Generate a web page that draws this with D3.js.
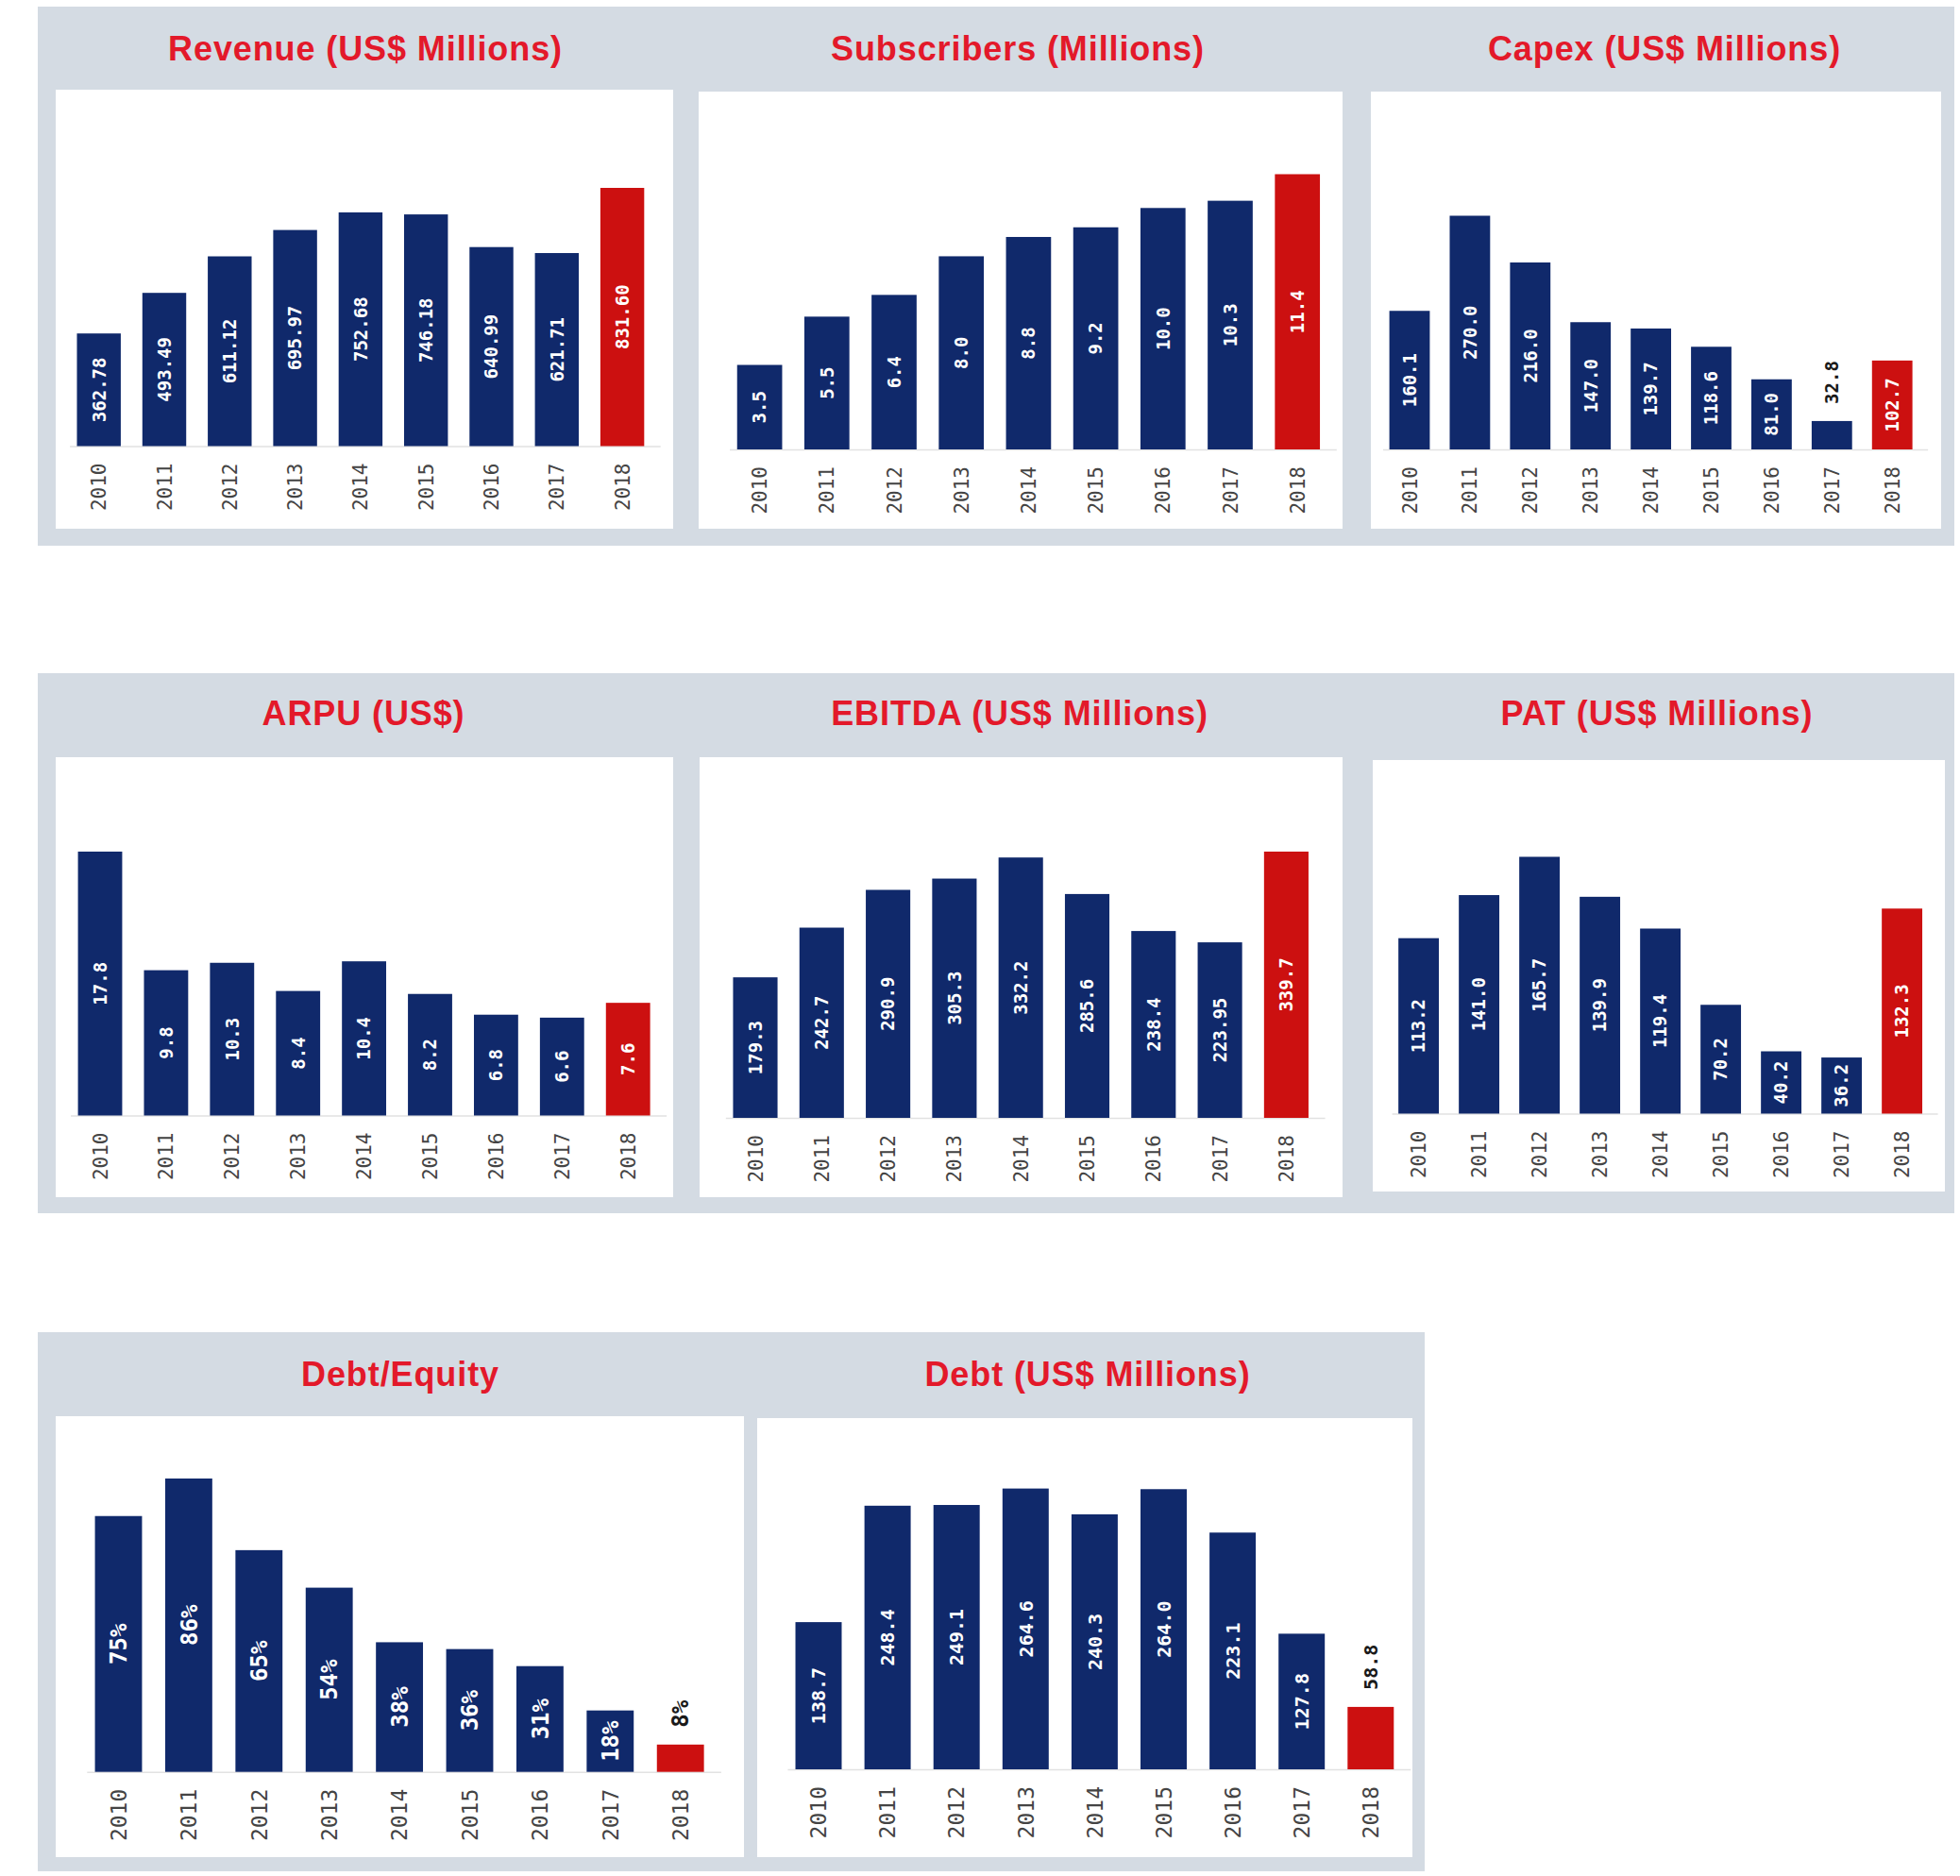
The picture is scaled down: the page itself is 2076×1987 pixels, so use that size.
<!DOCTYPE html>
<html>
<head>
<meta charset="utf-8">
<script src="https://cdn.jsdelivr.net/npm/d3@7"></script>
<style>
  html, body { margin: 0; padding: 0; background: #ffffff; }
  svg { display: block; }
</style>
</head>
<body>
<svg id="chart" width="2076" height="1987"></svg>
<script>
// ---------------- DATA ----------------
const years = ["2010", "2011", "2012", "2013", "2014", "2015", "2016", "2017", "2018"];
const highlightYear = "2018";

const revenue     = [362.78, 493.49, 611.12, 695.97, 752.68, 746.18, 640.99, 621.71, 831.60];
const subscribers = [3.5, 5.5, 6.4, 8.0, 8.8, 9.2, 10.0, 10.3, 11.4];
const capex       = [160.1, 270.0, 216.0, 147.0, 139.7, 118.6, 81.0, 32.8, 102.7];
const arpu        = [17.8, 9.8, 10.3, 8.4, 10.4, 8.2, 6.8, 6.6, 7.6];
const ebitda      = [179.3, 242.7, 290.9, 305.3, 332.2, 285.6, 238.4, 223.95, 339.7];
const pat         = [113.2, 141.0, 165.7, 139.9, 119.4, 70.2, 40.2, 36.2, 132.3];
const debtEquity  = [75, 86, 65, 54, 38, 36, 31, 18, 8];
const debt        = [138.7, 248.4, 249.1, 264.6, 240.3, 264.0, 223.1, 127.8, 58.8];

const titles = [
  "Revenue (US$ Millions)", "Subscribers (Millions)", "Capex (US$ Millions)",
  "ARPU (US$)", "EBITDA (US$ Millions)", "PAT (US$ Millions)",
  "Debt/Equity", "Debt (US$ Millions)"
];
// years whose value label sits above the bar
const outsideCapex = ["2017"];
const outsideDE = ["2018"];
const outsideDebt = ["2018"];

// ---------------- FORMATS ----------------
const fmt2 = d3.format(".2f");
const fmtAuto = v => (Math.abs(v * 10 - Math.round(v * 10)) < 1e-9) ? v.toFixed(1) : v.toFixed(2);
const fmtPct = v => v + "%";

// ---------------- LAYOUT ----------------
const COLORS = {
  panel: "#d4dbe3",
  inner: "#ffffff",
  bar: "#10296b",
  highlight: "#cc1010",
  title: "#e3192a",
  year: "#444444",
  valueIn: "#ffffff",
  valueOut: "#1a1a1a",
  axis: "#e2e2e2"
};

const rows = [
  { box: [40, 7, 2070, 578], titleY: 64 },
  { box: [40, 713, 2070, 1285], titleY: 768 },
  { box: [40, 1411, 1509, 1982], titleY: 1468 }
];

const charts = [
  { row: 0, title: titles[0], values: revenue, fmt: fmt2, outside: [], panel: [59, 95, 713, 560], titleX: 387, xr: [70.05, 693.75], base: 472.5, top: 199, yearSize: 21, valSize: 19 },
  { row: 0, title: titles[1], values: subscribers, fmt: fmtAuto, outside: [], panel: [740, 97, 1422, 560], titleX: 1078, xr: [769, 1409.8], base: 476, top: 184.5, yearSize: 21, valSize: 19 },
  { row: 0, title: titles[2], values: capex, fmt: fmtAuto, outside: outsideCapex, panel: [1452, 97, 2056, 560], titleX: 1763, xr: [1461.05, 2036.15], base: 476, top: 228.5, yearSize: 21, valSize: 19 },
  { row: 1, title: titles[3], values: arpu, fmt: fmtAuto, outside: [], panel: [59, 802, 713, 1268], titleX: 385, xr: [71.05, 700.15], base: 1181.5, top: 902, yearSize: 21, valSize: 19 },
  { row: 1, title: titles[4], values: ebitda, fmt: fmtAuto, outside: [], panel: [741, 802, 1422, 1268], titleX: 1080, xr: [764.85, 1397.55], base: 1184, top: 902, yearSize: 21, valSize: 19 },
  { row: 1, title: titles[5], values: pat, fmt: fmtAuto, outside: [], panel: [1454, 805, 2060, 1262], titleX: 1755, xr: [1470.6, 2046.6], base: 1179.5, top: 907.5, yearSize: 21, valSize: 19 },
  { row: 2, title: titles[6], values: debtEquity, fmt: fmtPct, outside: outsideDE, panel: [59, 1500, 788, 1967], titleX: 424, xr: [88.3, 757.9], base: 1876.7, top: 1566, yearSize: 23, valSize: 24 },
  { row: 2, title: titles[7], values: debt, fmt: fmtAuto, outside: outsideDebt, panel: [802, 1502, 1496, 1967], titleX: 1152, xr: [830.45, 1488.35], base: 1874, top: 1576.6, yearSize: 23, valSize: 20 }
];

// ---------------- DRAW ----------------
const svg = d3.select("#chart");
svg.append("rect").attr("x", 0).attr("y", 0).attr("width", 2076).attr("height", 1987).attr("fill", "#ffffff");

// row panels
svg.selectAll("rect.rowpanel")
  .data(rows)
  .join("rect")
  .attr("class", "rowpanel")
  .attr("x", d => d.box[0])
  .attr("y", d => d.box[1])
  .attr("width", d => d.box[2] - d.box[0])
  .attr("height", d => d.box[3] - d.box[1])
  .attr("fill", COLORS.panel);

charts.forEach(c => {
  const g = svg.append("g");
  const p = c.panel;

  // inner white panel
  g.append("rect")
    .attr("x", p[0]).attr("y", p[1])
    .attr("width", p[2] - p[0]).attr("height", p[3] - p[1])
    .attr("fill", COLORS.inner);

  // title
  g.append("text")
    .attr("x", c.titleX)
    .attr("y", rows[c.row].titleY)
    .attr("text-anchor", "middle")
    .attr("font-family", "'Liberation Sans', Arial, sans-serif")
    .attr("font-weight", "bold")
    .attr("font-size", 36)
    .attr("letter-spacing", "0.9px")
    .attr("fill", COLORS.title)
    .text(c.title);

  const data = years.map((y, i) => ({ year: y, value: c.values[i] }));

  const x = d3.scaleBand()
    .domain(years)
    .range(c.xr)
    .paddingInner(0.33)
    .paddingOuter(0.165);

  const y = d3.scaleLinear()
    .domain([0, d3.max(c.values)])
    .range([c.base, c.top]);

  // faint baseline
  g.append("line")
    .attr("x1", c.xr[0] + 4).attr("x2", c.xr[1] + 6)
    .attr("y1", c.base + 0.5).attr("y2", c.base + 0.5)
    .attr("stroke", COLORS.axis).attr("stroke-width", 1.5);

  // bars
  g.selectAll("rect.bar")
    .data(data)
    .join("rect")
    .attr("class", "bar")
    .attr("x", d => x(d.year))
    .attr("y", d => y(d.value))
    .attr("width", x.bandwidth())
    .attr("height", d => y(0) - y(d.value))
    .attr("fill", d => d.year === highlightYear ? COLORS.highlight : COLORS.bar);

  // value labels (rotated)
  g.selectAll("text.val")
    .data(data)
    .join("text")
    .attr("class", "val")
    .attr("transform", d => {
      const cx = x(d.year) + x.bandwidth() / 2;
      const out = c.outside.includes(d.year);
      const cy = out ? y(d.value) - 18 : (y(d.value) + y(0)) / 2;
      return `translate(${cx},${cy}) rotate(-90)`;
    })
    .attr("text-anchor", d => c.outside.includes(d.year) ? "start" : "middle")
    .attr("dy", "0.36em")
    .attr("font-family", "'DejaVu Sans Mono', monospace")
    .attr("font-weight", "bold")
    .attr("font-size", c.valSize)
    .attr("fill", d => c.outside.includes(d.year) ? COLORS.valueOut : COLORS.valueIn)
    .text(d => c.fmt(d.value));

  // year axis labels via d3 axis
  const axis = d3.axisBottom(x).tickSize(0).tickPadding(0);
  const ag = g.append("g")
    .attr("transform", `translate(0,${c.base})`)
    .call(axis);
  ag.select(".domain").remove();
  ag.selectAll(".tick text")
    .attr("transform", "translate(0,18) rotate(-90)")
    .attr("text-anchor", "end")
    .attr("x", 0)
    .attr("y", 0)
    .attr("dy", "0.36em")
    .attr("font-family", "'DejaVu Sans Mono', monospace")
    .attr("font-size", c.yearSize)
    .attr("fill", COLORS.year);
});
</script>
</body>
</html>
